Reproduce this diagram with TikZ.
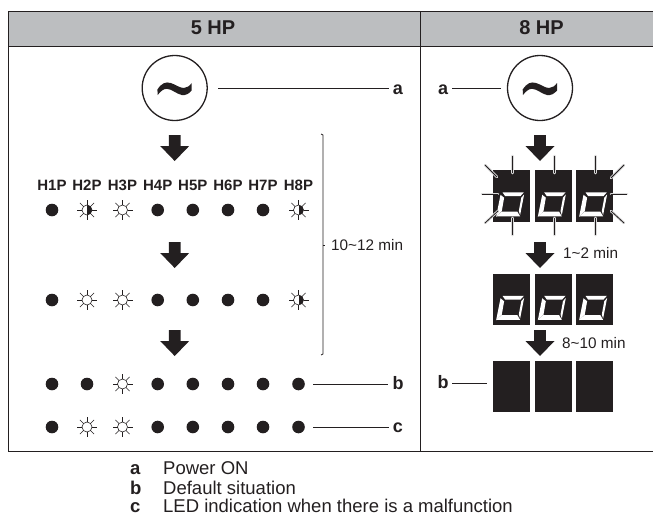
\documentclass[tikz,border=0pt]{standalone}
\usepackage{fontspec}
\setmainfont{Liberation Sans}
\usepackage{tikz}
\usetikzlibrary{positioning, calc}
\definecolor{headgray}{HTML}{BCBEC0}
\definecolor{ink}{HTML}{231F20}

\newcommand{\sunrays}[1]{%
  \foreach \ang in {0,45,...,315}
    \draw[sunray] ($(#1)+(\ang:5pt)$) -- ($(#1)+(\ang:10pt)$);}
\newcommand{\zerodigit}[1]{%
  \begin{scope}[shift={(#1.north west)}]
    \fill[white] (9.7,22.3) -- (31,22.3) -- (27.7,26) -- (12.3,26) -- cycle;
    \fill[white] (7.7,24.7) -- (11.3,27.7) -- (9,41) -- (3.3,46.7) -- cycle;
    \fill[white] (31.3,24.5) -- (28.5,27.5) -- (26,41) -- (27.3,45) -- cycle;
    \fill[white] (8.8,41.5) -- (24.5,41.5) -- (27.3,46.3) -- (3.6,46.3) -- cycle;
  \end{scope}}
\newcommand{\wave}[1]{%
  \fill[ink, shift={(#1)}] (-17.3,1.5) .. controls (-13,-5) and (-9,-6.5) .. (-4,-5)
    .. controls (1,-3.5) and (5,0) .. (9,0)
    .. controls (12,0) and (15,-2) .. (17,-5) -- (17,2.5)
    .. controls (14,6) and (11,7.5) .. (7,7)
    .. controls (2,6) and (-3,1) .. (-8,0.8)
    .. controls (-11,0.8) and (-14,3) .. (-17,7) -- cycle;}
\newcommand{\bigdown}[2]{%
  \fill[ink] (#1-5.8,#2) -- (#1+5.8,#2) -- (#1+5.8,#2+11) -- (#1+14.5,#2+11)
    -- (#1,#2+26) -- (#1-14.5,#2+11) -- (#1-5.8,#2+11) -- cycle;}

\begin{document}
\begin{tikzpicture}[x=1pt, y=-1pt,
        every node/.style={text=ink},
        frame/.style={draw=ink, line width=0.9pt},
        head/.style={font=\fontsize{20}{20}\selectfont\bfseries},
        power/.style={circle, draw=ink, line width=1.3pt, minimum size=65pt,
          inner sep=0pt},
        tag/.style={font=\fontsize{18}{18}\selectfont\bfseries, inner sep=0pt,
          anchor=base},
        leader/.style={draw=ink, line width=0.8pt},
        ledname/.style={font=\fontsize{15}{15}\selectfont\bfseries, inner sep=0pt},
        dot/.style={circle, fill=ink, minimum size=12.6pt, inner sep=0pt},
        sun/.style={circle, draw=ink, line width=0.6pt, fill=white,
          minimum size=10pt, inner sep=0pt},
        halfsun/.style={sun, path picture={\fill[ink]
          (path picture bounding box.north) rectangle
          (path picture bounding box.south east);}},
        sunray/.style={draw=ink, line width=0.6pt},
        panel/.style={rectangle, fill=ink, minimum width=37pt,
          minimum height=51.5pt, inner sep=0pt},
        flash/.style={draw=ink, line width=0.8pt,
          preaction={draw=white!85!black, line width=2.6pt, line cap=round}},
        timing/.style={font=\fontsize{15.3}{15.3}\selectfont, inner sep=0pt},
        legkey/.style={font=\fontsize{18.5}{18.5}\selectfont\bfseries,
          inner sep=0pt, anchor=base west},
        legtext/.style={font=\fontsize{18.5}{18.5}\selectfont,
          inner sep=0pt, anchor=base west}]

      \useasboundingbox (0,0) rectangle (653,517);

      % table
      \fill[headgray] (8,11) rectangle (653,46);
      \draw[frame] (653,11) -- (8,11) -- (8,451) -- (653,451);
      \draw[frame] (8,46) -- (653,46);
      \draw[frame] (420,11) -- (420,451);
      \node[head] (hp5) at (213,28) {5 HP};
      \node[head] (hp8) at (541.5,28) {8 HP};

      % 5 HP
      \node[power] (acL) at (174.7,88) {};
      \wave{acL}
      \node[tag] (aL) at (398,94) {a};
      \draw[leader, shorten <=10.5pt, shorten >=4pt] (acL) -- (acL -| aL.west);

      \bigdown{174.7}{135}
      \bigdown{174.7}{242}
      \bigdown{174.7}{330}

      \foreach \n/\x in {1/52,2/87,3/122.5,4/157.7,5/192.8,6/228,7/263,8/298.5}
        \node[ledname] (name\n) at (\x,185) {H\n P};

      % rows of leds
      \foreach \x/\n in {52/1,157.7/4,192.8/5,228/6,263/7} {
        \node[dot] (ra\n) at (\x,210) {};
        \node[dot] (rb\n) at (\x,300) {};
        \node[dot] (rc\n) at (\x,384) {};
        \node[dot] (rd\n) at (\x,427) {};
      }
      \node[halfsun] (ra2) at (87,210) {};    \sunrays{ra2}
      \node[sun] (ra3) at (122.5,210) {};     \sunrays{ra3}
      \node[halfsun] (ra8) at (298.5,210) {}; \sunrays{ra8}
      \node[sun] (rb2) at (87,300) {};        \sunrays{rb2}
      \node[sun] (rb3) at (122.5,300) {};     \sunrays{rb3}
      \node[halfsun] (rb8) at (298.5,300) {}; \sunrays{rb8}
      \node[dot] (rc2) at (87,384) {};
      \node[sun] (rc3) at (122.5,384) {};     \sunrays{rc3}
      \node[dot] (rc8) at (298.5,384) {};
      \node[sun] (rd2) at (87,427) {};        \sunrays{rd2}
      \node[sun] (rd3) at (122.5,427) {};     \sunrays{rd3}
      \node[dot] (rd8) at (298.5,427) {};

      \node[tag] (bL) at (398,389) {b};
      \node[tag] (cL) at (398,432.5) {c};
      \draw[leader, shorten <=8pt, shorten >=4pt] (rc8) -- (rc8 -| bL.west);
      \draw[leader, shorten <=8pt, shorten >=4pt] (rd8) -- (rd8 -| cL.west);

      % bracket
      \node[timing, anchor=west] (t12) at (331,245) {10\textasciitilde 12 min};
      \draw[leader] (321,134) -- (323,135) -- (323,354) -- (321,355);
      \draw[leader] (323,245) -- (325,245);

      % 8 HP
      \node[power] (acR) at (540,88) {};
      \wave{acR}
      \node[tag] (aR) at (443,94) {a};
      \coordinate (aRs) at (452,88);
      \draw[leader, shorten >=6pt] (aRs) -- (acR);

      \bigdown{540}{135}
      \bigdown{540}{242}
      \bigdown{540}{330}
      \node[timing, anchor=west] (t2) at (563,253) {1\textasciitilde 2 min};
      \node[timing, anchor=west] (t10) at (562,343) {8\textasciitilde 10 min};

      \foreach \n/\x in {1/511.5,2/553.2,3/594.5} {
        \node[panel] (da\n) at (\x,196) {};
        \node[panel] (db\n) at (\x,299.5) {};
        \node[panel] (dc\n) at (\x,386.5) {};
      }
      \foreach \n in {1,2,3} {
        \zerodigit{da\n}
        \zerodigit{db\n}
        \draw[flash] ($(da\n.north)+(1,-14)$) -- ($(da\n.north)+(1,3)$);
        \draw[flash] ($(da\n.south)+(1,-4)$) -- ($(da\n.south)+(1,13)$);
      }
      \draw[flash] (482,194) -- (498,194);
      \draw[flash] (485,165) -- (497,177);
      \draw[flash] (485,223) -- (498,211);
      \draw[flash] (627,194) -- (611,194);
      \draw[flash] (624,165) -- (611,178);
      \draw[flash] (624,223) -- (611,211);

      \node[tag] (bR) at (443,388.5) {b};
      \coordinate (bRs) at (452,383);
      \draw[leader, shorten >=6pt] (bRs) -- (bRs -| dc1.west);

      % legend
      \node[legkey] (keya) at (130,474) {a};
      \node[legkey] (keyb) at (130,494) {b};
      \node[legkey] (keyc) at (130,512.5) {c};
      \node[legtext] (texta) at (163,474) {Power ON};
      \node[legtext] (textb) at (163,494) {Default situation};
      \node[legtext] (textc) at (163,512.5) {LED indication when there is a malfunction};
    \end{tikzpicture}
\end{document}
